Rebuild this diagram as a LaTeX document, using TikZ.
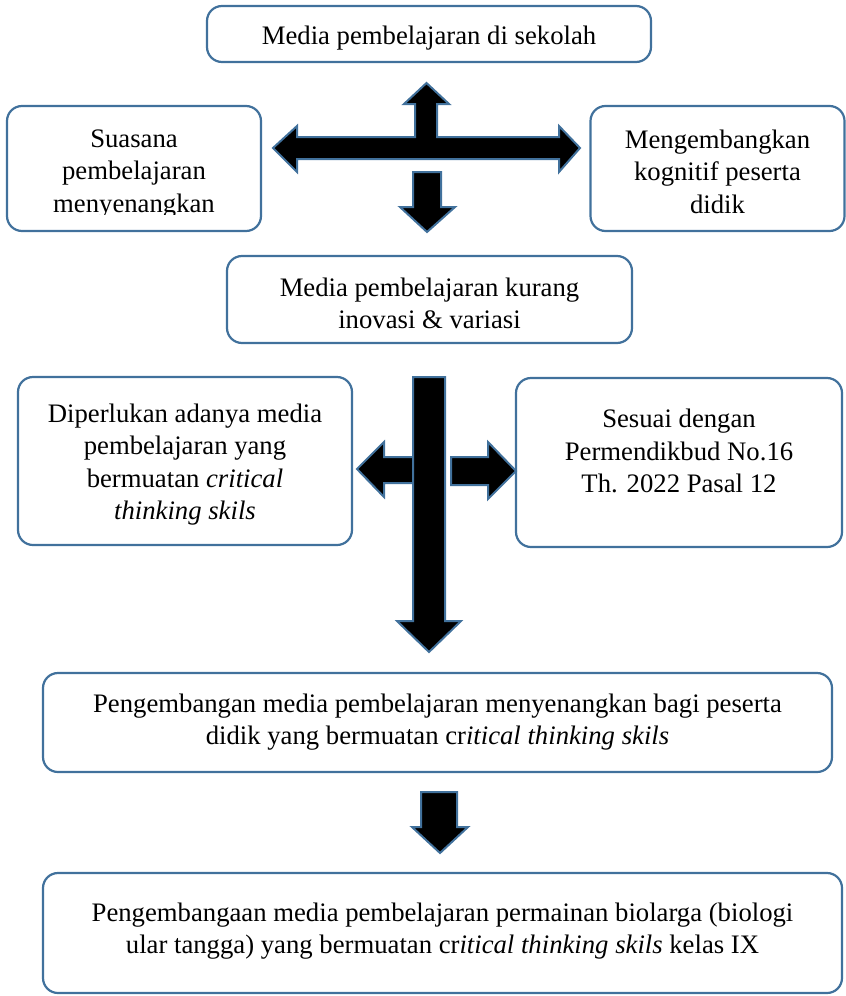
\documentclass[tikz,border=0pt]{standalone}
\usepackage{fontspec}
\setmainfont{Liberation Serif}
\definecolor{boxblue}{HTML}{41719C}
\begin{document}
\begin{tikzpicture}[x=1pt, y=-1pt,
    boxtext/.style={align=center, inner sep=0pt, font=\fontsize{26.7}{32.5}\selectfont},
    box/.style={draw=boxblue, line width=2.2pt, rounded corners=15pt, inner sep=0pt},
    blockarrow/.style={draw=boxblue, fill=black, line width=2pt, line join=miter}]
    \useasboundingbox (0,0) rectangle (846,996);

    % Boxes
    \node[box, minimum width=444pt, minimum height=56pt] (sekolah) at (429,34) {};
    \node[box, minimum width=254pt, minimum height=125pt] (suasana) at (134,168.5) {};
    \node[box, minimum width=254pt, minimum height=125pt] (kognitif) at (717.5,168.5) {};
    \node[box, minimum width=405pt, minimum height=87pt] (kurang) at (429.5,299.5) {};
    \node[box, minimum width=334pt, minimum height=168pt] (diperlukan) at (185,461) {};
    \node[box, minimum width=326pt, minimum height=169pt] (sesuai) at (679,462.5) {};
    \node[box, minimum width=789pt, minimum height=99pt] (pengembangan) at (437.5,722.5) {};
    \node[box, minimum width=799pt, minimum height=120pt] (biolarga) at (442.5,933) {};

    % Texts
    \node[boxtext] (sekolahtext) at (429,37.8) {Media pembelajaran di sekolah};
    \begin{scope}
        \clip (0,0) rectangle (846,214);
        \node[boxtext] (suasanatext) at (134,174) {Suasana\\ pembelajaran\\ menyenangkan};
    \end{scope}
    \node[boxtext] (kognitiftext) at (717.5,171.5) {Mengembangkan\\ kognitif peserta\\ didik};
    \node[boxtext] (kurangtext) at (429.5,303.3) {Media pembelajaran kurang\\ inovasi \& variasi};
    \node[boxtext] (diperlukantext) at (185,464.5) {Diperlukan adanya media\\ pembelajaran yang\\ bermuatan \textit{critical}\\ \textit{thinking skils}};
    \node[boxtext] (sesuaitext) at (679,451) {Sesuai dengan\\ Permendikbud No.16\\ Th. 2022 Pasal 12};
    \node[boxtext] (pengembangantext) at (437.5,722) {Pengembangan media pembelajaran menyenangkan bagi peserta\\ didik yang bermuatan cr\textit{itical thinking skils}};
    \node[boxtext] (biolargatext) at (442.5,931) {Pengembangaan media pembelajaran permainan biolarga (biologi\\ ular tangga) yang bermuatan cr\textit{itical thinking skils} kelas IX};

    % Block arrows
    \draw[blockarrow] (273,148) -- (297,126) -- (297,137) -- (415,137) -- (415,104) -- (404,104)
        -- (426.5,83) -- (449,104) -- (437,104) -- (437,137) -- (559,137) -- (559,126) -- (580,148)
        -- (559,172) -- (559,159) -- (297,159) -- (297,172) -- cycle;
    \draw[blockarrow] (413,172) -- (441,172) -- (441,207) -- (455,207) -- (427,232) -- (400,207) -- (413,207) -- cycle;
    \draw[blockarrow] (413,457) -- (384,457) -- (384,442) -- (357,469) -- (384,497) -- (384,483) -- (413,483) -- cycle;
    \draw[blockarrow] (451,457) -- (488,457) -- (488,442) -- (516,471) -- (488,499) -- (488,485) -- (451,485) -- cycle;
    \draw[blockarrow] (413,377) -- (445,377) -- (445,621) -- (461,621) -- (429,652) -- (397,621) -- (413,621) -- cycle;
    \draw[blockarrow] (421,792) -- (457,792) -- (457,827) -- (468,827) -- (440,853) -- (412,827) -- (421,827) -- cycle;
\end{tikzpicture}
\end{document}
